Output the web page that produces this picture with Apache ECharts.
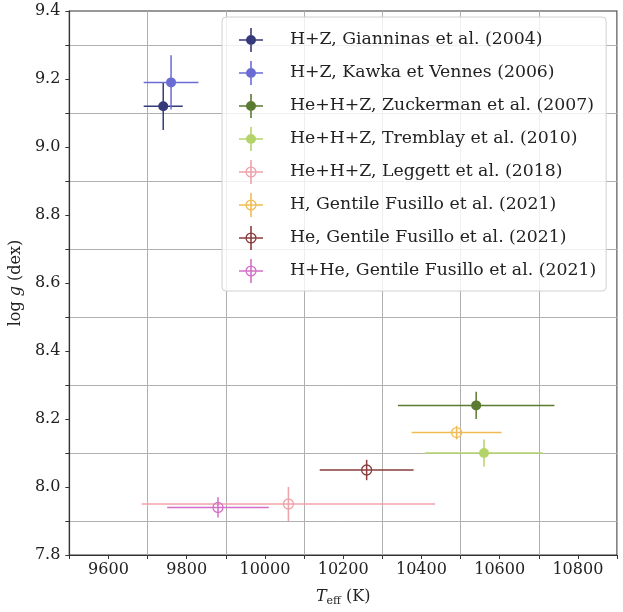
<!DOCTYPE html>
<html>
<head>
<meta charset="utf-8">
<script src="https://cdn.jsdelivr.net/npm/echarts@6/dist/echarts.min.js"></script>
<style>
  html, body { margin: 0; padding: 0; background: #fff; }
  #chart { width: 623px; height: 612px; }
</style>
</head>
<body>
<div id="chart"></div>
<script>
// sources, in legend order
const sources = [
  'H+Z, Gianninas et al. (2004)',
  'H+Z, Kawka et Vennes (2006)',
  'He+H+Z, Zuckerman et al. (2007)',
  'He+H+Z, Tremblay et al. (2010)',
  'He+H+Z, Leggett et al. (2018)',
  'H, Gentile Fusillo et al. (2021)',
  'He, Gentile Fusillo et al. (2021)',
  'H+He, Gentile Fusillo et al. (2021)'
];
const teff = [9740, 9760, 10540, 10560, 10060, 10490, 10260, 9880];
const teffErr = [50, 70, 200, 150, 375, 115, 120, 130];
const logg = [9.12, 9.19, 8.24, 8.10, 7.95, 8.16, 8.05, 7.94];
const loggErr = [0.07, 0.08, 0.04, 0.04, 0.05, 0.02, 0.03, 0.03];
const filled = [true, true, true, true, false, false, false, false];
const colors = ['#363a78', '#6b6bd4', '#5b7a32', '#b4d46a', '#eea2aa', '#f0bc52', '#8a3c3c', '#d46ec8'];

// axis limits / ticks
const xMin = 9500, xMax = 10900, xStep = 100;
const yMin = 7.8, yMax = 9.4, yStep = 0.1;

const FONT = 'DejaVu Serif';

// legend icons: errorbar cross + marker
const iconFilled = 'path://M0 11.2H24V12.8H0Z M11.2 0H12.8V24H11.2Z M17 12A5 5 0 1 1 7 12A5 5 0 1 1 17 12Z';
const iconOpen = 'path://M0 11.2H24V12.8H0Z M11.2 0H12.8V24H11.2Z M17.6 12A5.6 5.6 0 1 1 6.4 12A5.6 5.6 0 1 1 17.6 12Z M16.3 12A4.3 4.3 0 1 0 7.7 12A4.3 4.3 0 1 0 16.3 12Z';

function makeRender(i) {
  return function (params, api) {
    const x = api.value(0), y = api.value(1), dx = api.value(2), dy = api.value(3);
    const c = api.coord([x, y]);
    const l = api.coord([x - dx, y]), r = api.coord([x + dx, y]);
    const t = api.coord([x, y + dy]), b = api.coord([x, y - dy]);
    const col = colors[i];
    return {
      type: 'group',
      children: [
        { type: 'line', shape: { x1: l[0], y1: l[1], x2: r[0], y2: r[1] }, style: { stroke: col, lineWidth: 1.5 } },
        { type: 'line', shape: { x1: t[0], y1: t[1], x2: b[0], y2: b[1] }, style: { stroke: col, lineWidth: 1.5 } },
        {
          type: 'circle', shape: { cx: c[0], cy: c[1], r: 5 },
          style: filled[i] ? { fill: col } : { fill: 'none', stroke: col, lineWidth: 1.3 }
        }
      ]
    };
  };
}

const series = sources.map((name, i) => ({
  name: name,
  type: 'custom',
  renderItem: makeRender(i),
  itemStyle: { color: colors[i] },
  encode: { x: 0, y: 1 },
  data: [[teff[i], logg[i], teffErr[i], loggErr[i]]]
}));

const chart = echarts.init(document.getElementById('chart'));
chart.setOption({
  animation: false,
  textStyle: { fontFamily: FONT },
  grid: {
    left: 68, right: 6, top: 11, bottom: 53,
    show: true, borderColor: '#333', borderWidth: 1.2
  },
  xAxis: {
    type: 'value',
    min: xMin, max: xMax, interval: xStep,
    name: '{i|T}{s|eff}{n| (K)}',
    nameLocation: 'middle',
    nameGap: 31,
    nameTextStyle: {
      rich: {
        i: { fontFamily: FONT, fontSize: 16, fontStyle: 'italic', color: '#222' },
        s: { fontFamily: FONT, fontSize: 11, color: '#222', padding: [10, 0, 0, 0] },
        n: { fontFamily: FONT, fontSize: 16, color: '#222' }
      }
    },
    axisLine: { lineStyle: { color: '#333', width: 1.2 } },
    axisTick: { length: 4, lineStyle: { color: '#333' } },
    axisLabel: {
      fontFamily: FONT, fontSize: 16, color: '#222', margin: 7,
      formatter: v => (Math.round(v) % 200 === 0 ? String(Math.round(v)) : '')
    },
    splitLine: { show: true, lineStyle: { color: ['#b0b0b0', 'rgba(0,0,0,0)'], width: 1 } }
  },
  yAxis: {
    type: 'value',
    min: yMin, max: yMax, interval: yStep,
    name: '{n|log }{i|g}{n| (dex)}',
    nameLocation: 'middle',
    nameRotate: 90,
    nameGap: 43,
    nameTextStyle: {
      rich: {
        i: { fontFamily: FONT, fontSize: 16, fontStyle: 'italic', color: '#222' },
        n: { fontFamily: FONT, fontSize: 16, color: '#222' }
      }
    },
    axisLine: { show: true, lineStyle: { color: '#333', width: 1.2 } },
    axisTick: { show: true, length: 4, lineStyle: { color: '#333' } },
    axisLabel: {
      fontFamily: FONT, fontSize: 16, color: '#222', margin: 9,
      formatter: v => (Math.round(v * 10) % 2 === 0 ? v.toFixed(1) : '')
    },
    splitLine: { show: true, lineStyle: { color: ['rgba(0,0,0,0)', '#b0b0b0'], width: 1 } }
  },
  legend: {
    orient: 'vertical',
    left: 222, top: 17,
    itemWidth: 24, itemHeight: 24, itemGap: 9,
    padding: [11, 10, 8, 17],
    backgroundColor: 'rgba(255,255,255,0.8)',
    borderColor: '#d0d0d0', borderWidth: 1, borderRadius: 4,
    textStyle: { fontFamily: FONT, fontSize: 17.3, color: '#222', padding: [0, 0, 0, 22] },
    itemStyle: { borderWidth: 0 },
    data: sources.map((name, i) => ({
      name: name,
      icon: filled[i] ? iconFilled : iconOpen,
      itemStyle: { color: colors[i], borderWidth: 0 }
    }))
  },
  series: series
});
</script>
</body>
</html>
